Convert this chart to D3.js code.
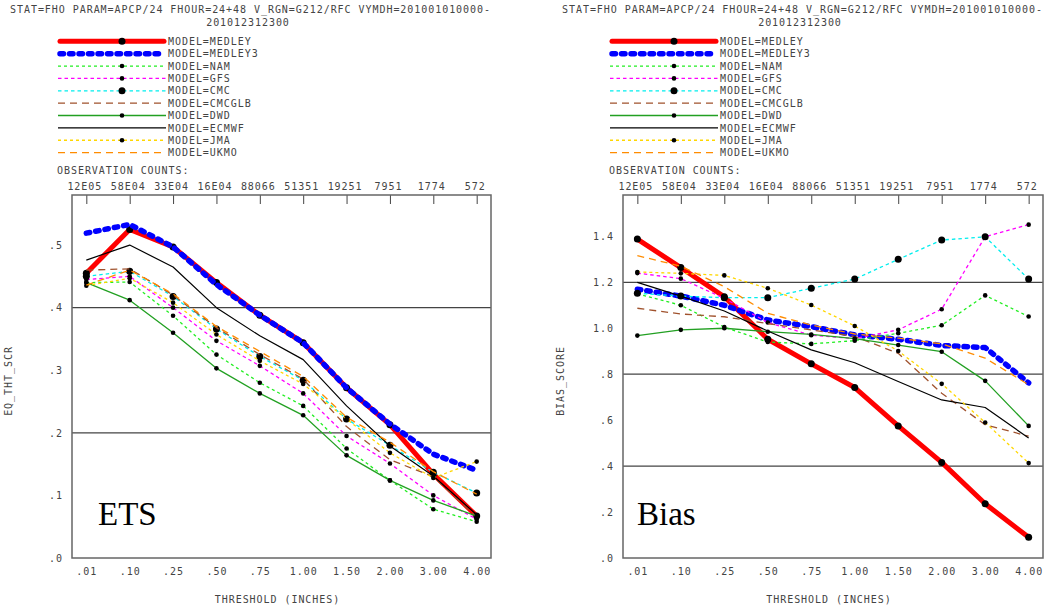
<!DOCTYPE html>
<html>
<head>
<meta charset="utf-8">
<script src="https://cdn.jsdelivr.net/npm/d3@7"></script>
<style>
  body { margin: 0; background: #fff; }
  svg text { font-family: "DejaVu Sans Mono", monospace; font-size: 10px; letter-spacing: 0.95px; fill: #444; }
</style>
</head>
<body>
<svg id="chart" width="1053" height="611"></svg>
<script>
const thresholds = ['.01', '.10', '.25', '.50', '.75', '1.00', '1.50', '2.00', '3.00', '4.00'];
const obsCounts = ['12E05', '58E04', '33E04', '16E04', '88066', '51351', '19251', '7951', '1774', '572'];
const models = ['MEDLEY', 'MEDLEY3', 'NAM', 'GFS', 'CMC', 'CMCGLB', 'DWD', 'ECMWF', 'JMA', 'UKMO'];

// equitable threat score
const etsMedley  = [0.455, 0.525, 0.497, 0.440, 0.388, 0.344, 0.272, 0.213, 0.134, 0.067];
const etsMedley3 = [0.519, 0.533, 0.497, 0.437, 0.388, 0.344, 0.272, 0.214, 0.166, 0.140];
const etsNam     = [0.440, 0.441, 0.387, 0.325, 0.280, 0.243, 0.175, 0.124, 0.078, 0.058];
const etsGfs     = [0.445, 0.450, 0.400, 0.347, 0.307, 0.263, 0.195, 0.151, 0.100, 0.062];
const etsCmc     = [0.450, 0.458, 0.418, 0.366, 0.322, 0.284, 0.222, 0.180, 0.137, 0.104];
const etsCmcglb  = [0.460, 0.462, 0.420, 0.368, 0.325, 0.286, 0.210, 0.157, 0.130, 0.065];
const etsDwd     = [0.440, 0.412, 0.360, 0.303, 0.263, 0.228, 0.164, 0.124, 0.092, 0.067];
const etsEcmwf   = [0.476, 0.500, 0.465, 0.400, 0.355, 0.317, 0.243, 0.179, 0.131, 0.069];
const etsJma     = [0.435, 0.447, 0.408, 0.357, 0.315, 0.278, 0.222, 0.168, 0.128, 0.154];
const etsUkmo    = [0.436, 0.460, 0.422, 0.370, 0.330, 0.290, 0.225, 0.185, 0.138, 0.102];

// frequency bias
const biasMedley  = [1.388, 1.264, 1.137, 0.952, 0.845, 0.742, 0.575, 0.416, 0.236, 0.090];
const biasMedley3 = [1.170, 1.140, 1.100, 1.036, 1.007, 0.971, 0.952, 0.925, 0.916, 0.762];
const biasNam     = [1.150, 1.100, 1.005, 0.940, 0.932, 0.946, 0.978, 1.013, 1.143, 1.051];
const biasGfs     = [1.240, 1.216, 1.130, 1.025, 0.970, 0.955, 0.993, 1.083, 1.398, 1.451];
const biasCmc     = [1.152, 1.140, 1.133, 1.133, 1.174, 1.214, 1.300, 1.384, 1.398, 1.214];
const biasCmcglb  = [1.087, 1.062, 1.050, 1.020, 0.993, 0.964, 0.891, 0.717, 0.580, 0.530];
const biasDwd     = [0.968, 0.993, 1.000, 0.985, 0.973, 0.955, 0.927, 0.898, 0.771, 0.575];
const biasEcmwf   = [1.200, 1.140, 1.075, 0.988, 0.906, 0.850, 0.768, 0.688, 0.655, 0.522];
const biasJma     = [1.245, 1.239, 1.230, 1.174, 1.101, 1.010, 0.901, 0.758, 0.590, 0.413];
const biasUkmo    = [1.316, 1.270, 1.181, 1.065, 1.014, 0.975, 0.957, 0.932, 0.870, 0.754];

const etsTicks = [0, 0.1, 0.2, 0.3, 0.4, 0.5];
const biasTicks = [0, 0.2, 0.4, 0.6, 0.8, 1.0, 1.2, 1.4];

// line styles per model, same order as models
const styles = [
  { color: '#ff0000', width: 5, dash: null, cap: 'round', r: 3.5 },
  { color: '#0000ff', width: 5.5, dash: '3.5,6', cap: 'round', r: 0 },
  { color: '#22ee22', width: 1.3, dash: '3,3', cap: 'butt', r: 2.3 },
  { color: '#ff00ff', width: 1.3, dash: '3.5,3', cap: 'butt', r: 2.3 },
  { color: '#00eeee', width: 1.3, dash: '3.5,3', cap: 'butt', r: 3.5 },
  { color: '#a0522d', width: 1.3, dash: '7,5', cap: 'butt', r: 0 },
  { color: '#22a022', width: 1.3, dash: null, cap: 'butt', r: 2.3 },
  { color: '#000000', width: 1.2, dash: null, cap: 'butt', r: 0 },
  { color: '#ffd700', width: 1.3, dash: '3,3', cap: 'butt', r: 2.3 },
  { color: '#ff8c00', width: 1.3, dash: '7,5', cap: 'butt', r: 0 }
];

const header1 = 'STAT=FHO PARAM=APCP/24 FHOUR=24+48 V_RGN=G212/RFC VYMDH=201001010000-';
const header2 = '201012312300';

const panels = [
  { ox: 0, x0: 72, x1: 491, max: 0.58, ticks: etsTicks, grid: [0.2, 0.4], title: 'EQ_THT_SCR', tag: 'ETS', tagX: 98,
    series: [etsMedley, etsMedley3, etsNam, etsGfs, etsCmc, etsCmcglb, etsDwd, etsEcmwf, etsJma, etsUkmo] },
  { ox: 552, x0: 623, x1: 1043, max: 1.58, ticks: biasTicks, grid: [0.4, 0.8, 1.2], title: 'BIAS_SCORE', tag: 'Bias', tagX: 637,
    series: [biasMedley, biasMedley3, biasNam, biasGfs, biasCmc, biasCmcglb, biasDwd, biasEcmwf, biasJma, biasUkmo] }
];

const plotTop = 195, plotBottom = 558;
const svg = d3.select('#chart');

function fmt(v) {
  let s = d3.format('.1f')(v);
  return s.startsWith('0') ? s.slice(1) : s;
}

panels.forEach(p => {
  const g = svg.append('g');
  const x = d3.scalePoint().domain(thresholds).range([p.x0, p.x1]).padding(0.33);
  const y = d3.scaleLinear().domain([0, p.max]).range([plotBottom, plotTop]);

  // header
  g.append('text').attr('x', p.ox + 10).attr('y', 12.7).text(header1);
  g.append('text').attr('x', p.ox + 248).attr('y', 26).attr('text-anchor', 'middle').text(header2);

  // legend
  const lg = g.append('g').attr('transform', 'translate(' + p.ox + ',0)');
  models.forEach((m, i) => {
    const st = styles[i];
    const ly = 41.3 + i * 12.37;
    lg.append('line')
      .attr('x1', st.cap === 'round' ? 60 : 58).attr('x2', st.cap === 'round' ? 164 : 166)
      .attr('y1', ly).attr('y2', ly)
      .attr('stroke', st.color).attr('stroke-width', st.width)
      .attr('stroke-linecap', st.cap)
      .attr('stroke-dasharray', st.dash);
    if (st.r > 0) lg.append('circle').attr('cx', 122).attr('cy', ly).attr('r', st.r).attr('fill', '#000');
    lg.append('text').attr('x', 168).attr('y', ly + 3.7).text('MODEL=' + m);
  });
  lg.append('text').attr('x', 57).attr('y', 174).text('OBSERVATION COUNTS:');

  // grid lines
  g.selectAll('.grid').data(p.grid).enter().append('line')
    .attr('x1', p.x0).attr('x2', p.x1)
    .attr('y1', d => y(d)).attr('y2', d => y(d))
    .attr('stroke', '#444').attr('stroke-width', 1.2);

  // top axis with observation counts
  const topAxis = d3.axisTop(x).tickSize(-9).tickPadding(5).tickFormat((d, i) => obsCounts[i]);
  const ta = g.append('g').attr('transform', 'translate(0,' + plotTop + ')').call(topAxis);
  ta.select('.domain').remove();
  ta.selectAll('line').attr('stroke', '#444');
  ta.selectAll('text').attr('dx', -2);

  // bottom axis
  const ba = g.append('g').attr('transform', 'translate(0,' + plotBottom + ')').call(d3.axisBottom(x).tickSize(0).tickPadding(10));
  ba.select('.domain').remove();
  ba.selectAll('text').attr('dy', '0.71em');

  // left axis
  const la = g.append('g').attr('transform', 'translate(' + p.x0 + ',0)')
    .call(d3.axisLeft(y).tickValues(p.ticks).tickSize(0).tickPadding(9).tickFormat(fmt));
  la.select('.domain').remove();
  g.selectAll('g').attr('font-family', null).attr('font-size', null);

  // frame
  g.append('rect').attr('x', p.x0).attr('y', plotTop).attr('width', p.x1 - p.x0).attr('height', plotBottom - plotTop)
    .attr('fill', 'none').attr('stroke', '#666').attr('stroke-width', 1.5);

  // axis titles
  g.append('text').attr('transform', 'translate(' + (p.ox + 12) + ',381) rotate(-90)')
    .attr('text-anchor', 'middle').text(p.title);
  g.append('text').attr('x', (p.x0 + p.x1) / 2 - 4).attr('y', 602.7)
    .attr('text-anchor', 'middle').text('THRESHOLD (INCHES)');

  // series
  const line = d3.line().x((d, i) => x(thresholds[i])).y(d => y(d));
  p.series.forEach((vals, si) => {
    const st = styles[si];
    const sg = g.append('g');
    sg.append('path').datum(vals).attr('d', line)
      .attr('fill', 'none').attr('stroke', st.color).attr('stroke-width', st.width)
      .attr('stroke-linecap', st.cap).attr('stroke-linejoin', 'round')
      .attr('stroke-dasharray', st.dash);
    if (st.r > 0) {
      sg.selectAll('circle').data(vals).enter().append('circle')
        .attr('cx', (d, i) => x(thresholds[i])).attr('cy', d => y(d))
        .attr('r', st.r).attr('fill', '#000');
    }
  });

  // panel tag
  g.append('text').attr('x', p.tagX).attr('y', 525)
    .style('font-family', '"Liberation Serif", "Times New Roman", serif')
    .style('font-size', '33px').style('letter-spacing', '0px').style('fill', '#000')
    .text(p.tag);
});
</script>
</body>
</html>
